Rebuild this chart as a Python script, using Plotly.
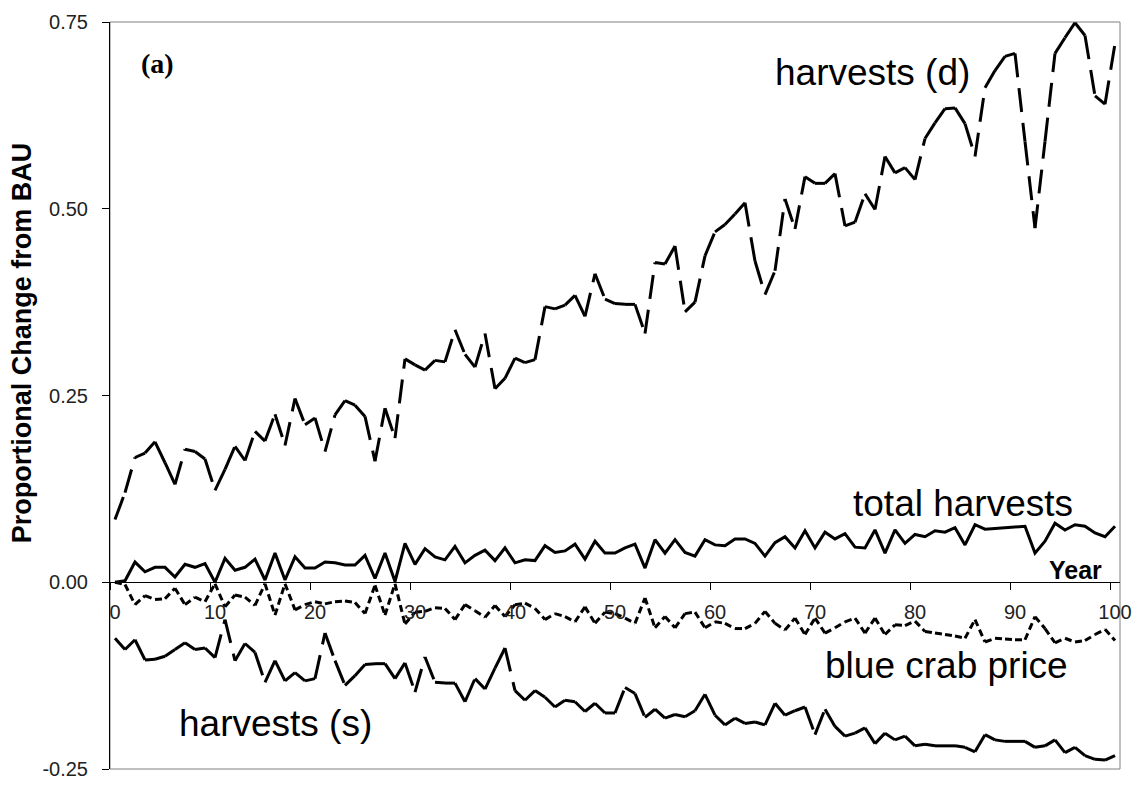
import plotly.graph_objects as go

years = list(range(101))

harvests_d = [
    0.084, 0.120, 0.167, 0.173, 0.188, 0.160, 0.131, 0.178, 0.175, 0.165,
    0.123, 0.151, 0.182, 0.163, 0.202, 0.189, 0.225, 0.183, 0.246, 0.211,
    0.220, 0.175, 0.224, 0.243, 0.237, 0.222, 0.162, 0.233, 0.193, 0.299,
    0.291, 0.284, 0.297, 0.295, 0.338, 0.305, 0.288, 0.333, 0.259, 0.273,
    0.300, 0.294, 0.298, 0.369, 0.366, 0.371, 0.384, 0.356, 0.413, 0.379,
    0.373, 0.372, 0.372, 0.333, 0.428, 0.426, 0.450, 0.362, 0.375, 0.437,
    0.469, 0.479, 0.493, 0.508, 0.430, 0.385, 0.417, 0.513, 0.473, 0.543,
    0.534, 0.534, 0.547, 0.477, 0.482, 0.520, 0.499, 0.570, 0.548, 0.555,
    0.539, 0.594, 0.615, 0.634, 0.635, 0.614, 0.570, 0.662, 0.685, 0.704,
    0.708, 0.590, 0.474, 0.590, 0.708, 0.729, 0.749, 0.732, 0.651, 0.640,
    0.721,
]

total_harvests = [
    0.000, 0.002, 0.027, 0.014, 0.020, 0.020, 0.007, 0.024, 0.020, 0.025,
    0.000, 0.032, 0.016, 0.020, 0.031, 0.003, 0.039, 0.003, 0.034, 0.019,
    0.019, 0.027, 0.026, 0.023, 0.023, 0.036, 0.005, 0.039, 0.001, 0.052,
    0.024, 0.045, 0.034, 0.030, 0.048, 0.026, 0.036, 0.043, 0.029, 0.046,
    0.026, 0.030, 0.029, 0.049, 0.040, 0.042, 0.051, 0.031, 0.055, 0.039,
    0.039, 0.046, 0.051, 0.019, 0.057, 0.039, 0.057, 0.040, 0.035, 0.057,
    0.050, 0.049, 0.058, 0.058, 0.052, 0.035, 0.053, 0.061, 0.046, 0.069,
    0.046, 0.067, 0.058, 0.065, 0.047, 0.046, 0.070, 0.039, 0.070, 0.052,
    0.064, 0.061, 0.069, 0.067, 0.073, 0.050, 0.077, 0.071, 0.072, 0.073,
    0.075, 0.075, 0.039, 0.055, 0.079, 0.070, 0.077, 0.075, 0.066, 0.061,
    0.075,
]

blue_crab_price = [
    0.000, -0.003, -0.030, -0.018, -0.023, -0.022, -0.008, -0.030, -0.020, -0.026,
    -0.002, -0.033, -0.017, -0.020, -0.031, -0.002, -0.044, -0.002, -0.037, -0.030,
    -0.026, -0.029, -0.026, -0.025, -0.027, -0.042, -0.004, -0.044, -0.002, -0.056,
    -0.040, -0.039, -0.034, -0.035, -0.050, -0.030, -0.038, -0.047, -0.031, -0.046,
    -0.030, -0.028, -0.035, -0.050, -0.042, -0.046, -0.053, -0.033, -0.055, -0.040,
    -0.042, -0.048, -0.055, -0.021, -0.061, -0.046, -0.061, -0.042, -0.040, -0.061,
    -0.053, -0.055, -0.062, -0.062, -0.055, -0.039, -0.055, -0.064, -0.048, -0.070,
    -0.048, -0.068, -0.061, -0.053, -0.048, -0.068, -0.048, -0.070, -0.057, -0.058,
    -0.052, -0.066, -0.068, -0.070, -0.072, -0.075, -0.050, -0.080, -0.075, -0.076,
    -0.077, -0.077, -0.046, -0.062, -0.081, -0.075, -0.080, -0.078, -0.070, -0.063,
    -0.078,
]

harvests_s = [
    -0.075, -0.090, -0.077, -0.104, -0.103, -0.099, -0.090, -0.081, -0.090, -0.088,
    -0.101, -0.050, -0.105, -0.082, -0.094, -0.134, -0.105, -0.132, -0.121, -0.132,
    -0.129, -0.068, -0.105, -0.138, -0.125, -0.110, -0.109, -0.109, -0.129, -0.108,
    -0.147, -0.100, -0.134, -0.135, -0.135, -0.160, -0.129, -0.143, -0.115, -0.088,
    -0.145, -0.158, -0.145, -0.154, -0.167, -0.158, -0.160, -0.173, -0.162, -0.175,
    -0.175, -0.141, -0.149, -0.181, -0.170, -0.182, -0.177, -0.180, -0.172, -0.150,
    -0.178, -0.191, -0.182, -0.189, -0.187, -0.191, -0.162, -0.178, -0.172, -0.167,
    -0.204, -0.170, -0.193, -0.206, -0.202, -0.195, -0.216, -0.202, -0.211, -0.206,
    -0.219, -0.217, -0.219, -0.219, -0.219, -0.221, -0.227, -0.204, -0.211, -0.213,
    -0.213, -0.213, -0.221, -0.219, -0.211, -0.228, -0.221, -0.232, -0.237, -0.238,
    -0.232,
]

x_tick_vals = list(range(0, 101, 10))
x_tick_text = [str(v) for v in x_tick_vals]
y_tick_vals = [-0.25, 0.0, 0.25, 0.50, 0.75]
y_tick_text = ["-0.25", "0.00", "0.25", "0.50", "0.75"]

series_labels = ["harvests (d)", "total harvests", "blue crab price", "harvests (s)"]


def segmented(xs, ys):
    """Split a series into separate sub-paths so the dash pattern restarts at each point."""
    sx, sy = [], []
    for i in range(len(xs) - 1):
        sx += [xs[i], xs[i + 1], None]
        sy += [ys[i], ys[i + 1], None]
    return sx, sy


fig = go.Figure()

dx, dy = segmented(years, harvests_d)
fig.add_trace(go.Scatter(x=dx, y=dy, mode="lines", name="harvests (d)",
                         line=dict(color="black", width=3, dash="24px,11px")))

fig.add_trace(go.Scatter(x=years, y=total_harvests, mode="lines", name="total harvests",
                         line=dict(color="black", width=3)))

bx, by = segmented(years, blue_crab_price)
fig.add_trace(go.Scatter(x=bx, y=by, mode="lines", name="blue crab price",
                         line=dict(color="black", width=3, dash="7px,4px")))

sx, sy = segmented(years, harvests_s)
fig.add_trace(go.Scatter(x=sx, y=sy, mode="lines", name="harvests (s)",
                         line=dict(color="black", width=3, dash="24px,11px")))

fig.update_layout(
    width=1143, height=791,
    margin=dict(l=110, r=13, t=20, b=11),
    paper_bgcolor="white", plot_bgcolor="white",
    showlegend=False,
    font=dict(family="Arial, Liberation Sans, sans-serif", color="black"),
    xaxis=dict(
        range=[-0.5, 100.5], anchor="free", position=0.25,
        showline=True, linecolor="black", linewidth=1,
        showgrid=False, zeroline=False,
        tickmode="array", tickvals=x_tick_vals, ticktext=x_tick_text,
        ticks="", tickfont=dict(size=20, color="#222"),
        ticklabelstandoff=12,
        minor=dict(tickmode="array", tickvals=[v - 0.5 for v in x_tick_vals[:-1]] + [99.5],
                   ticks="outside", ticklen=7, tickcolor="black", tickwidth=1, showgrid=False),
    ),
    yaxis=dict(
        range=[-0.25, 0.75],
        showline=True, linecolor="black", linewidth=1,
        showgrid=False, zeroline=False,
        tickmode="array", tickvals=y_tick_vals, ticktext=y_tick_text,
        ticks="outside", ticklen=7, tickcolor="black", tickwidth=1,
        tickfont=dict(size=20, color="#222"),
        ticklabelstandoff=10,
    ),
    shapes=[dict(type="rect", xref="paper", yref="paper", x0=0, x1=1, y0=0, y1=1,
                 line=dict(color="#808080", width=1), layer="below")],
)

label_font = dict(family="Arial, Liberation Sans, sans-serif", size=37, color="black")
annotations = [
    dict(text="<b>(a)</b>", x=0.047, y=0.945,
         font=dict(family="Liberation Serif, Times New Roman, serif", size=28, color="black")),
    dict(text=series_labels[0], x=0.755, y=0.932, font=label_font),
    dict(text=series_labels[1], x=0.845, y=0.355, font=label_font),
    dict(text=series_labels[2], x=0.828, y=0.139, font=label_font),
    dict(text=series_labels[3], x=0.164, y=0.0605, font=label_font),
    dict(text="<b>Year</b>", x=0.956, y=0.266,
         font=dict(family="Arial, Liberation Sans, sans-serif", size=25, color="black")),
    dict(text="<b>Proportional Change from BAU</b>", x=-0.087, y=0.57, textangle=-90,
         font=dict(family="Arial, Liberation Sans, sans-serif", size=27, color="black")),
]
for a in annotations:
    a.update(xref="paper", yref="paper", showarrow=False, xanchor="center", yanchor="middle")
fig.update_layout(annotations=annotations)

fig.write_html("out.html", config={"displayModeBar": False},
               post_script="document.body.style.margin='0';")
